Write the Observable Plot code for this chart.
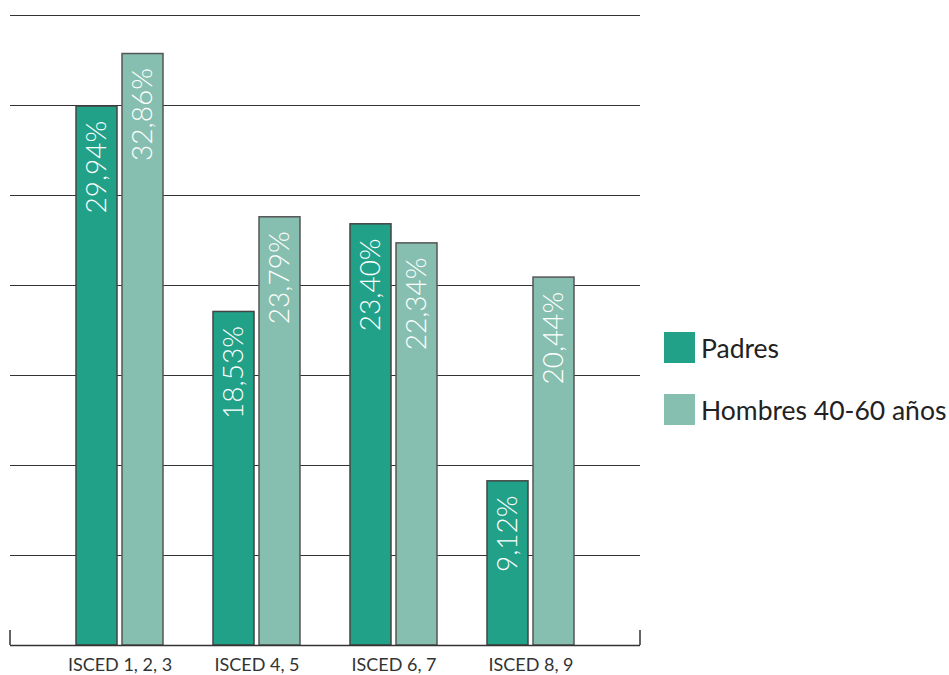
<!DOCTYPE html>
<html>
<head>
<meta charset="utf-8">
<script src="https://cdn.jsdelivr.net/npm/d3@7"></script>
<script src="https://cdn.jsdelivr.net/npm/@observablehq/plot@0.6"></script>
<style>
  html, body { margin: 0; padding: 0; background: #fff; }
  #wrap { position: relative; width: 949px; height: 675px; font-family: Lato, "Noto Sans", sans-serif; }
  #chart { position: absolute; left: 0; top: 0; }
  #legend { position: absolute; left: 664px; top: 332px; }
  .item { display: flex; align-items: center; height: 31px; margin-bottom: 31px; }
  .swatch { width: 31px; height: 31px; margin-right: 6px; }
  .item span { font-size: 26.5px; font-weight: 400; color: #222; white-space: nowrap; }
</style>
</head>
<body>
<div id="wrap">
  <div id="chart"></div>
  <div id="legend"></div>
</div>
<script>
// Education level groups and the two compared populations
const categories = ["ISCED 1, 2, 3", "ISCED 4, 5", "ISCED 6, 7", "ISCED 8, 9"];
const series = ["Padres", "Hombres 40-60 años"];
const colors = ["#22a189", "#86bfb0"];

// Share (%) per education level
const padres = [29.94, 18.53, 23.40, 9.12];
const hombres = [32.86, 23.79, 22.34, 20.44];

// Horizontal gridlines
const gridTicks = [5, 10, 15, 20, 25, 30, 35];

const rowsPadres = categories.map((cat, i) => ({cat, serie: series[0], value: padres[i]}));
const rowsHombres = categories.map((cat, i) => ({cat, serie: series[1], value: hombres[i]}));

const fmt = v => d3.format(".2f")(v).replace(".", ",") + "%";

const labelStyle = {
  x: "cat", y: "value", text: d => fmt(d.value),
  rotate: -90, textAnchor: "end", dy: 14,
  fill: "white", fontSize: 28, fontWeight: 300, fontFamily: "Lato, sans-serif"
};

const chart = Plot.plot({
  width: 650,
  height: 675,
  marginLeft: 10,
  marginRight: 10,
  marginTop: 15,
  marginBottom: 30,
  style: {fontFamily: "Lato, sans-serif", fontSize: "18px", color: "#333", background: "transparent"},
  x: {domain: categories, paddingInner: 0.3665, paddingOuter: 0.48, label: null, tickSize: 0, tickPadding: 13},
  y: {domain: [0, 35], axis: null},
  marks: [
    Plot.ruleY(gridTicks, {stroke: "#333", strokeWidth: 1}),
    Plot.barY(rowsPadres, {x: "cat", y: "value", fill: colors[0], stroke: "#444", strokeWidth: 1.5, insetRight: 46}),
    Plot.barY(rowsHombres, {x: "cat", y: "value", fill: colors[1], stroke: "#555", strokeWidth: 1.5, insetLeft: 46}),
    Plot.ruleY([0], {stroke: "#333", strokeWidth: 1.5}),
    Plot.text(rowsPadres, {...labelStyle, dx: -23}),
    Plot.text(rowsHombres, {...labelStyle, dx: 23})
  ]
});

// Short upright ticks closing both ends of the baseline
const [xl, xr] = chart.scale("x").range;
const yScale = chart.scale("y");
const y0 = yScale.apply(0);
const yt = yScale.apply(0.83);
d3.select(chart).append("path")
  .attr("d", `M${xl},${yt}V${y0}M${xr},${yt}V${y0}`)
  .attr("stroke", "#333").attr("stroke-width", 1.5).attr("fill", "none");

document.getElementById("chart").appendChild(chart);

// Legend
const legend = d3.select("#legend");
series.forEach((s, i) => {
  const item = legend.append("div").attr("class", "item");
  item.append("div").attr("class", "swatch").style("background", colors[i]);
  item.append("span").text(s);
});
</script>
</body>
</html>
